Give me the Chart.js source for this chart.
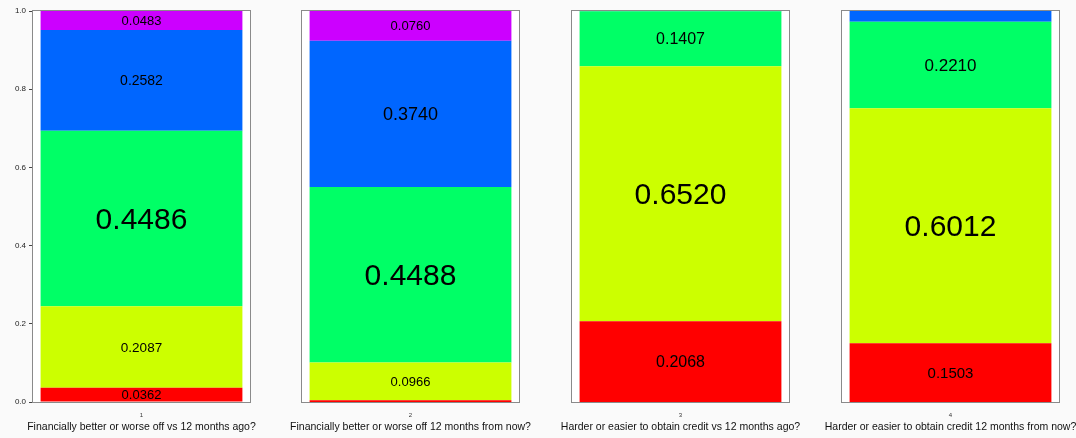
<!DOCTYPE html>
<html>
<head>
<meta charset="utf-8">
<script src="https://cdn.jsdelivr.net/npm/chart.js@4/dist/chart.umd.min.js"></script>
<style>
  html, body { margin: 0; padding: 0; background: #fafafa; }
  #wrap { position: relative; width: 1076px; height: 438px; overflow: hidden; }
  #wrap canvas { position: absolute; top: 0; }
</style>
</head>
<body>
<div id="wrap"></div>
<script>
// ── Data ──────────────────────────────────────────────────────
const CATEGORIES = ["1", "2", "3", "4"];
const QUESTIONS = [
  "Financially better or worse off vs 12 months ago?",
  "Financially better or worse off 12 months from now?",
  "Harder or easier to obtain credit vs 12 months ago?",
  "Harder or easier to obtain credit 12 months from now?",
];
const RED    = [0.0362, 0.0046, 0.2068, 0.1503];
const YELLOW = [0.2087, 0.0966, 0.6520, 0.6012];
const GREEN  = [0.4486, 0.4488, 0.1407, 0.2210];
const BLUE   = [0.2582, 0.3740, 0.0005, 0.0275];
const PURPLE = [0.0483, 0.0760, 0.0000, 0.0000];
const Y_TICKS = [0, 0.2, 0.4, 0.6, 0.8, 1.0];

(() => {
  "use strict";

  // ── Styles ──────────────────────────────────────────────────
  const SERIES = [
    { values: RED,    color: "#ff0000" },
    { values: YELLOW, color: "#ccff00" },
    { values: GREEN,  color: "#00ff66" },
    { values: BLUE,   color: "#0066ff" },
    { values: PURPLE, color: "#cc00ff" },
  ];
  // label font size per panel, per series (R-style cex scaling)
  const LABEL_FONT = [
    [13, 13.5, 30, 14, 13],
    [13, 13, 30, 18, 13],
    [16, 30, 16, 13, 13],
    [15, 30, 17, 13, 13],
  ];
  const FAMILY = "'Liberation Sans', Arial, Helvetica, sans-serif";
  const PANEL_LEFT = [0, 269, 539, 809];
  const PANEL_W = 270;
  const H = 438;

  // white plotting box with grey frame
  const boxPlugin = {
    id: "box",
    beforeDraw(chart) {
      const a = chart.chartArea;
      const ctx = chart.ctx;
      ctx.save();
      ctx.fillStyle = "#ffffff";
      ctx.fillRect(a.left, a.top, a.right - a.left, a.bottom - a.top);
      ctx.restore();
    },
    afterDraw(chart) {
      const a = chart.chartArea;
      const ctx = chart.ctx;
      ctx.save();
      ctx.strokeStyle = "#8a8a8a";
      ctx.lineWidth = 1;
      ctx.strokeRect(Math.round(a.left) - 0.5, Math.round(a.top) - 0.5,
        Math.round(a.right - a.left) + 1, Math.round(a.bottom - a.top) + 1);

      // question under the axis, not squeezed to the box width
      ctx.fillStyle = "#111";
      ctx.font = `10.5px ${FAMILY}`;
      ctx.textAlign = "center";
      ctx.textBaseline = "middle";
      ctx.fillText(QUESTIONS[chart.options.panelIndex], (a.left + a.right) / 2, 427);
      ctx.restore();
    },
  };

  // proportion labels centred in each segment
  const labelPlugin = {
    id: "segLabels",
    afterDatasetsDraw(chart) {
      const ctx = chart.ctx;
      const panel = chart.options.panelIndex;
      ctx.save();
      ctx.fillStyle = "#000";
      ctx.textAlign = "center";
      ctx.textBaseline = "middle";
      chart.data.datasets.forEach((ds, si) => {
        const v = ds.data[0];
        if (v < 0.03) return;
        const bar = chart.getDatasetMeta(si).data[0];
        const size = LABEL_FONT[panel][si];
        ctx.font = `${size}px ${FAMILY}`;
        ctx.fillText(v.toFixed(4), bar.x, (bar.y + bar.base) / 2 + (size > 20 ? 2 : 1));
      });
      ctx.restore();
    },
  };

  const wrap = document.getElementById("wrap");

  CATEGORIES.forEach((cat, i) => {
    const canvas = document.createElement("canvas");
    canvas.width = PANEL_W;
    canvas.height = H;
    canvas.style.left = PANEL_LEFT[i] + "px";
    canvas.style.width = PANEL_W + "px";
    canvas.style.height = H + "px";
    wrap.appendChild(canvas);

    const withAxis = i === 0;

    new Chart(canvas.getContext("2d"), {
      type: "bar",
      data: {
        labels: [cat],
        datasets: SERIES.map((s) => ({
          data: [s.values[i]],
          backgroundColor: s.color,
          borderWidth: 0,
          barPercentage: 0.93,
          categoryPercentage: 1,
        })),
      },
      options: {
        panelIndex: i,
        responsive: false,
        animation: false,
        layout: { padding: { left: 0, right: 20, top: 11, bottom: 0 } },
        plugins: { legend: { display: false }, tooltip: { enabled: false } },
        scales: {
          x: {
            stacked: true,
            grid: { display: false, drawTicks: false },
            border: { display: false },
            ticks: { color: "#333", font: { size: 6, family: FAMILY }, padding: 10 },
            afterFit: (scale) => { scale.height = 36; },
          },
          y: {
            stacked: true,
            min: 0,
            max: 1,
            afterBuildTicks: (scale) => { scale.ticks = Y_TICKS.map((v) => ({ value: v })); },
            grid: {
              drawOnChartArea: false,
              display: withAxis,
              tickLength: 4,
              color: "#444",
            },
            border: { display: false },
            ticks: {
              display: withAxis,
              color: "#222",
              font: { size: 8, family: FAMILY },
              padding: 3,
              callback: (v) => Number(v).toFixed(1),
            },
            afterFit: (scale) => { scale.width = 33; },
          },
        },
      },
      plugins: [boxPlugin, labelPlugin],
    });
  });
})();
</script>
</body>
</html>
